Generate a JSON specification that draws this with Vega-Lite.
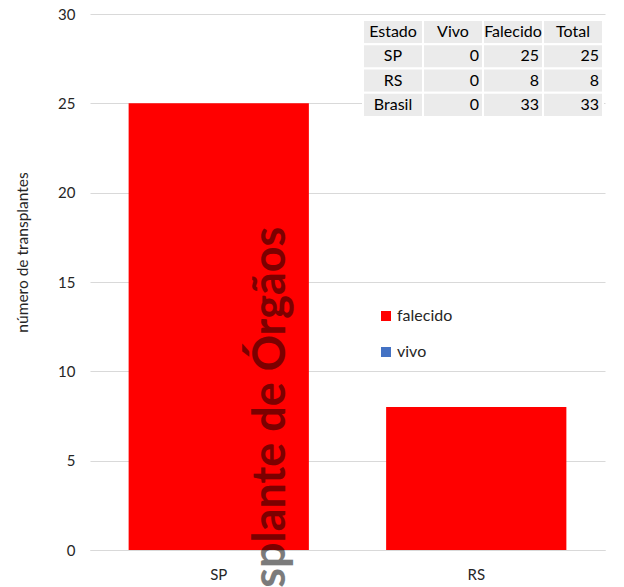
{
  "$schema": "https://vega.github.io/schema/vega-lite/v6.json",
  "width": 515,
  "height": 536,
  "autosize": {"type": "none"},
  "padding": {"left": 90, "top": 14, "right": 19, "bottom": 37},
  "background": "white",
  "config": {
    "font": "Lato",
    "view": {"stroke": null},
    "axis": {"labelFont": "Lato", "titleFont": "Lato", "labelColor": "#262626", "titleColor": "#262626"}
  },
  "datasets": {
    "transplantes": [
      {"estado": "SP", "situacao": "falecido", "n": 25},
      {"estado": "SP", "situacao": "vivo", "n": 0},
      {"estado": "RS", "situacao": "falecido", "n": 8},
      {"estado": "RS", "situacao": "vivo", "n": 0}
    ],
    "tabela": [
      {"linha": "cab", "coluna": "Estado", "texto": "Estado"},
      {"linha": "cab", "coluna": "Vivo", "texto": "Vivo"},
      {"linha": "cab", "coluna": "Falecido", "texto": "Falecido"},
      {"linha": "cab", "coluna": "Total", "texto": "Total"},
      {"linha": "SP", "coluna": "Estado", "texto": "SP"},
      {"linha": "SP", "coluna": "Vivo", "texto": "0"},
      {"linha": "SP", "coluna": "Falecido", "texto": "25"},
      {"linha": "SP", "coluna": "Total", "texto": "25"},
      {"linha": "RS", "coluna": "Estado", "texto": "RS"},
      {"linha": "RS", "coluna": "Vivo", "texto": "0"},
      {"linha": "RS", "coluna": "Falecido", "texto": "8"},
      {"linha": "RS", "coluna": "Total", "texto": "8"},
      {"linha": "Brasil", "coluna": "Estado", "texto": "Brasil"},
      {"linha": "Brasil", "coluna": "Vivo", "texto": "0"},
      {"linha": "Brasil", "coluna": "Falecido", "texto": "33"},
      {"linha": "Brasil", "coluna": "Total", "texto": "33"}
    ]
  },
  "layer": [
    {
      "data": {"name": "transplantes"},
      "layer": [
        {
          "mark": {"type": "bar"},
          "encoding": {
            "x": {
              "field": "estado", "type": "nominal", "sort": ["SP", "RS"],
              "scale": {"paddingInner": 0.3, "paddingOuter": 0.15},
              "axis": {"title": null, "labelAngle": 0, "ticks": false, "domainColor": "#d9d9d9", "domainWidth": 1, "labelPadding": 17, "labelFontSize": 15}
            },
            "y": {
              "field": "n", "type": "quantitative", "stack": "zero",
              "scale": {"domain": [0, 30], "nice": false},
              "axis": {"values": [0, 5, 10, 15, 20, 25, 30], "title": "número de transplantes", "titleFontWeight": "normal", "titleFontSize": 15.5, "titlePadding": 27, "titleY": 238, "domain": false, "ticks": false, "gridColor": "#d9d9d9", "labelPadding": 15, "labelFontSize": 15}
            },
            "color": {
              "field": "situacao", "type": "nominal",
              "scale": {"domain": ["falecido", "vivo"], "range": ["#ff0000", "#4472c4"]},
              "legend": {"title": null, "orient": "none", "legendX": 288, "legendY": 294, "symbolType": "square", "symbolSize": 100, "symbolStrokeWidth": 0, "labelFontSize": 16, "labelColor": "#262626", "labelOffset": 3, "rowPadding": 20}
            },
            "order": {"field": "situacao", "sort": "ascending"}
          }
        },
        {
          "mark": {"type": "text", "text": "Transplante de Órgãos", "angle": 270, "align": "right", "baseline": "alphabetic", "fontSize": 45, "fontWeight": "bold", "fill": "#000000", "opacity": 0.16, "dy": 66},
          "encoding": {
            "x": {"datum": "SP"},
            "y": {"datum": 18.1}
          }
        }
      ]
    },
    {
      "data": {"name": "tabela"},
      "encoding": {
        "x": {"field": "coluna", "type": "nominal", "sort": ["Estado", "Vivo", "Falecido", "Total"], "scale": {"range": [273, 513], "paddingInner": 0, "paddingOuter": 0}, "axis": null},
        "y": {"field": "linha", "type": "nominal", "sort": ["cab", "SP", "RS", "Brasil"], "scale": {"range": [6, 103], "paddingInner": 0, "paddingOuter": 0}, "axis": null}
      },
      "layer": [
        {"mark": {"type": "rect", "fill": "#ebebeb", "stroke": "white", "strokeWidth": 2}},
        {
          "transform": [{"filter": "datum.linha === 'cab' || datum.coluna === 'Estado'"}],
          "mark": {"type": "text", "align": "center", "baseline": "middle", "fontSize": 16, "fill": "#000000"},
          "encoding": {"text": {"field": "texto"}}
        },
        {
          "transform": [{"filter": "datum.linha !== 'cab' && datum.coluna !== 'Estado'"}],
          "mark": {"type": "text", "align": "right", "baseline": "middle", "fontSize": 16, "fill": "#000000", "dx": -4},
          "encoding": {
            "x": {"field": "coluna", "type": "nominal", "sort": ["Estado", "Vivo", "Falecido", "Total"], "bandPosition": 1},
            "text": {"field": "texto"}
          }
        }
      ]
    }
  ],
  "resolve": {"scale": {"x": "independent", "y": "independent", "color": "independent"}}
}
